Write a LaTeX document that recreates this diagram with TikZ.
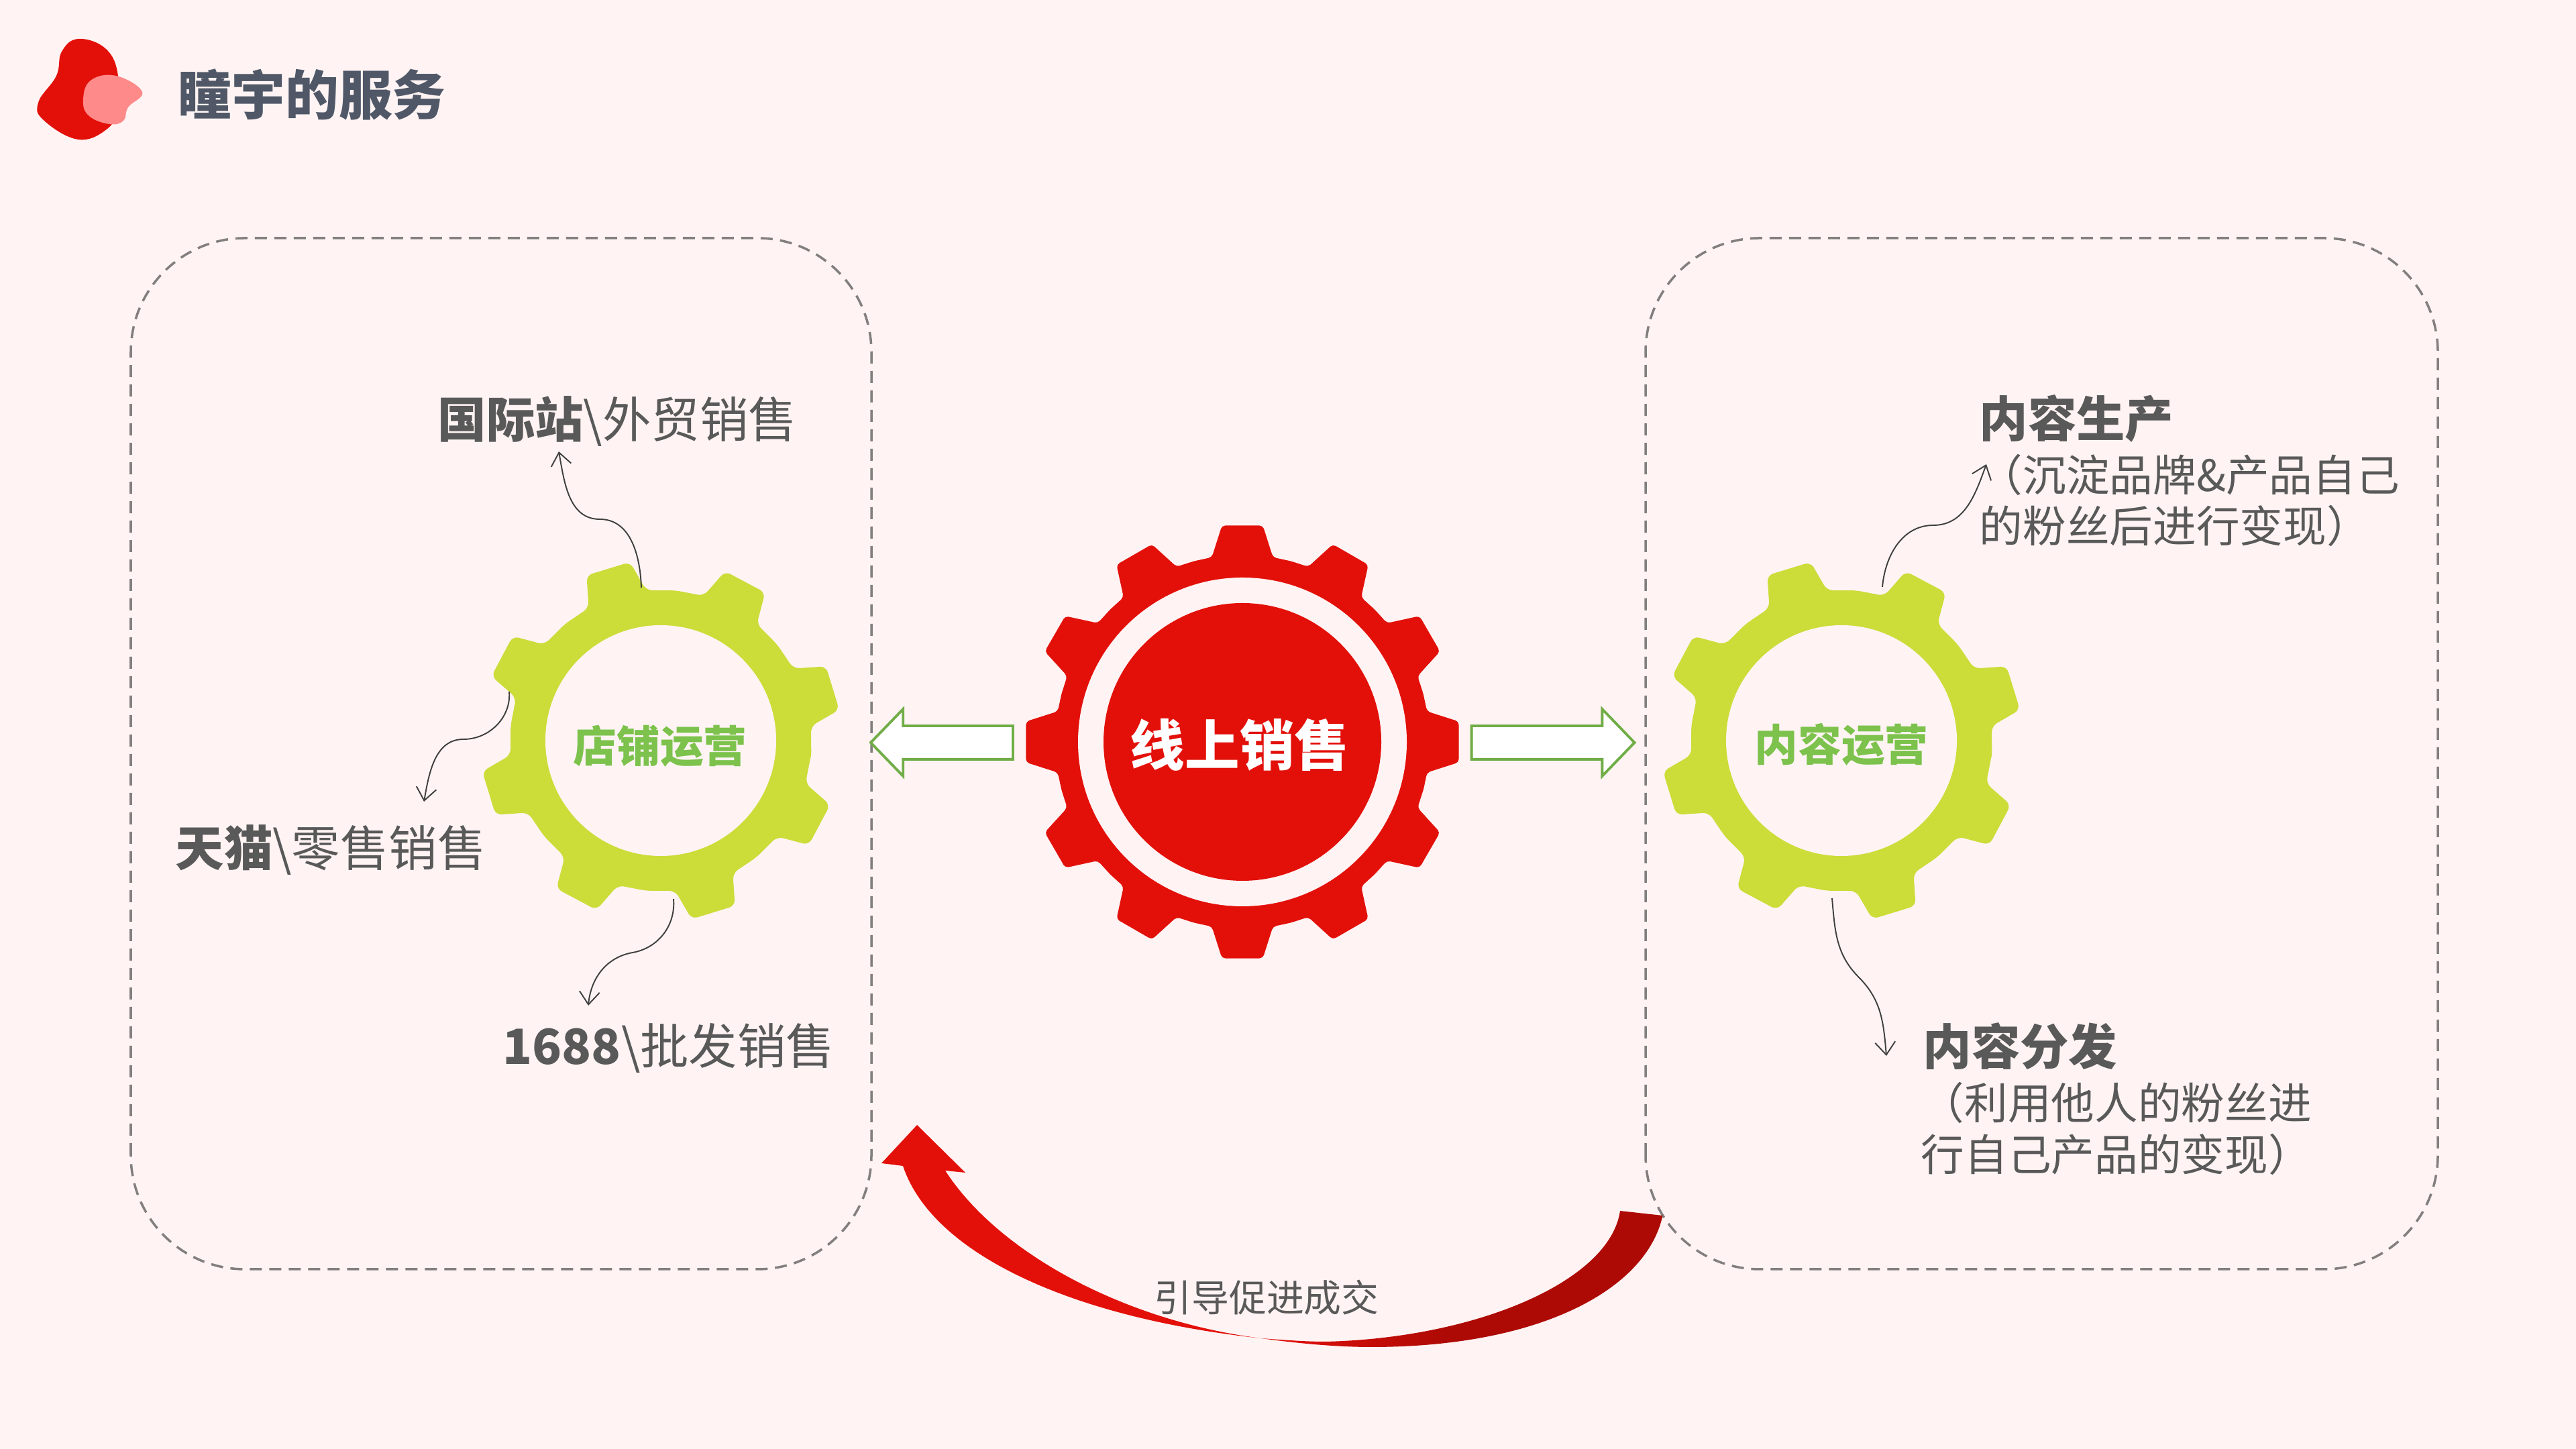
\documentclass[tikz,border=0pt]{standalone}
\usepackage{fontspec}
\usepackage{xcolor}
\setmainfont{Noto Sans CJK SC}
\usetikzlibrary{arrows.meta,shapes.arrows}
\definecolor{bg}{HTML}{FFF4F3}
\definecolor{redm}{HTML}{E3100A}
\definecolor{redd}{HTML}{AE0A05}
\definecolor{pinkm}{HTML}{FF8A8A}
\definecolor{lime}{HTML}{CCDC39}
\definecolor{leaf}{HTML}{7CC24C}
\definecolor{edge}{HTML}{70AD47}
\definecolor{ink}{HTML}{595959}
\definecolor{titleink}{HTML}{505868}
\definecolor{dashc}{HTML}{827F7E}
\pgfdeclarehorizontalshading{bandshade}{100bp}{color(0bp)=(redm); color(50bp)=(redm); color(61bp)=(redd); color(100bp)=(redd)}
\tikzset{
  box/.style={draw=dashc, line width=1pt, dash pattern=on .18cm off .11cm, rounded corners=1.7cm},
  hole/.style={circle, fill=bg, inner sep=0pt, minimum size=3.44cm},
  gearlab/.style={text=leaf, font=\fontsize{18.4}{22}\selectfont\bfseries},
  lab/.style={text=ink, anchor=west, inner sep=0pt, text height=.6cm, text depth=.08cm},
  labl/.style={lab, font=\fontsize{20.6}{24}\selectfont},
  labs/.style={lab, font=\fontsize{18.4}{22}\selectfont},
  curve/.style={draw=black!75, line width=.55pt, -{Straight Barb[length=.19cm,width=.3cm]}},
  blockarrow/.style={single arrow, draw=edge, fill=white, line width=1.1pt, inner sep=0pt, outer sep=0pt,
    text height=.23cm, text depth=.23cm, minimum width=.96cm,
    single arrow head extend=.25cm, single arrow tip angle=92, single arrow head indent=0cm}
}
\newcommand{\gearteeth}[9]{% centre, colour, first tooth, teeth, half pitch, root, tip, base half angle, tip half angle
  \fill[rounded corners=.09cm, #2, shift={#1}] (#3-#5+1:#6) \foreach \a in {#4} {
    -- (\a-#8:#6) -- (\a-#9:#7) -- (\a+#9:#7) -- (\a+#8:#6) -- (\a+#5:#6)} -- cycle;}
\begin{document}
\begin{tikzpicture}
  \fill[bg] (0,0) rectangle (38.4,21.6);
  \useasboundingbox (0,0) rectangle (38.4,21.6);
  % logo
  \fill[redm] plot[smooth cycle,tension=.7] coordinates {(1.17,21.02) (1.58,20.87) (1.76,20.47) (1.72,19.95) (1.60,19.68) (1.17,19.52) (0.66,19.80) (0.57,20.07) (0.84,20.47) (0.92,20.83)};
  \fill[pinkm] plot[smooth cycle,tension=.7] coordinates {(1.73,20.47) (2.12,20.23) (1.91,20.0) (1.84,19.8) (1.63,19.75) (1.33,19.87) (1.24,20.10) (1.35,20.40)};
  \node[text=titleink, font=\fontsize{22.7}{26}\selectfont\bfseries, anchor=west, inner sep=0pt] (title) at (2.65,20.19) {瞳宇的服务};
  % dashed frames
  \draw[box] (1.95,2.68) rectangle (12.99,18.05);
  \draw[box] (24.53,2.68) rectangle (36.34,18.05);
  % gears
  \gearteeth{(9.85,10.56)}{lime}{17}{17,62,107,152,197,242,287,332}{22.5}{2.25}{2.70}{11.5}{7.2}
  \gearteeth{(27.45,10.56)}{lime}{17}{17,62,107,152,197,242,287,332}{22.5}{2.25}{2.70}{11.5}{7.2}
  \gearteeth{(18.52,10.54)}{redm, rounded corners=.05cm}{0}{0,30,...,330}{15}{2.79}{3.24}{9.4}{5.4}
  \node[hole] (gearl) at (9.85,10.56) {};
  \node[hole] (gearr) at (27.45,10.56) {};
  \node[hole, minimum size=4.90cm] (gearm) at (18.52,10.54) {};
  \node[circle, fill=redm, inner sep=0pt, minimum size=4.14cm] (core) at (18.52,10.54) {};
  \node[text=white, font=\fontsize{23.2}{26}\selectfont\bfseries] (sale) at (18.48,10.50) {线上销售};
  \node[gearlab] (shop) at (9.84,10.48) {店铺运营};
  \node[gearlab] (cont) at (27.45,10.50) {内容运营};
  % block arrows
  \node[blockarrow, minimum height=2.12cm, shape border rotate=180] (arrl) at (14.16,10.53) {};
  \node[blockarrow, minimum height=2.43cm] (arrr) at (23.03,10.53) {};
  % curved connectors
  \coordinate (a1) at (9.56,12.84);  \coordinate (m1) at (8.94,13.86);  \coordinate (b1) at (8.33,14.87);
  \coordinate (a2) at (7.59,11.29);  \coordinate (m2) at (6.91,10.58);  \coordinate (b2) at (6.32,9.65);
  \coordinate (a3) at (10.04,8.20);  \coordinate (m3) at (9.43,7.40);   \coordinate (b3) at (8.77,6.61);
  \coordinate (a4) at (28.06,12.85); \coordinate (m4) at (28.82,13.77); \coordinate (b4) at (29.61,14.68);
  \coordinate (a5) at (27.31,8.21);  \coordinate (m5) at (27.71,7.03);  \coordinate (b5) at (28.12,5.86);
  \draw[curve] (a1) to[out=92,in=0] (m1) to[out=180,in=-80] (b1);
  \draw[curve] (a2) to[out=-85,in=0] (m2) to[out=180,in=80] (b2);
  \draw[curve] (a3) to[out=-85,in=10] (m3) to[out=190,in=85] (b3);
  \draw[curve] (a4) to[out=85,in=180] (m4) to[out=0,in=-110] (b4);
  \draw[curve] (a5) to[out=-85,in=135] (m5) to[out=-45,in=95] (b5);
  % labels
  \node[labl] (l1) at (6.52,15.33) {\textbf{国际站}\textbackslash 外贸销售};
  \node[labl] (l2) at (2.61,8.94) {\textbf{天猫}\textbackslash 零售销售};
  \node[labl] (l3) at (7.49,5.99) {\textbf{1688}\textbackslash 批发销售};
  \node[labl] (r1) at (29.50,15.34) {\textbf{内容生产}};
  \node[labs] (r1a) at (29.50,14.53) {（沉淀品牌\&产品自己};
  \node[labs] (r1b) at (29.50,13.77) {的粉丝后进行变现）};
  \node[labl] (r2) at (28.66,5.98) {\textbf{内容分发}};
  \node[labs] (r2a) at (28.63,5.17) {（利用他人的粉丝进};
  \node[labs] (r2b) at (28.63,4.40) {行自己产品的变现）};
  % big curved arrow
  \shade[shading=bandshade]
    (13.46,4.22) -- (13.14,4.26) -- (13.67,4.83) -- (14.39,4.12) -- (14.09,4.15)
    .. controls (14.9,2.9) and (16.8,1.9) .. (18.80,1.65)
    .. controls (16.0,1.95) and (13.9,2.9) .. (13.46,4.22) -- cycle
    (24.785,3.48) .. controls (24.55,2.4) and (23.0,1.52) .. (20.44,1.52)
    .. controls (19.9,1.52) and (19.3,1.58) .. (18.80,1.65)
    .. controls (19.2,1.62) and (19.5,1.60) .. (19.75,1.60)
    .. controls (22.0,1.65) and (24.0,2.5) .. (24.15,3.55) -- cycle;
  \node[text=ink, font=\fontsize{15.9}{19}\selectfont] (lead) at (18.88,2.26) {引导促进成交};
\end{tikzpicture}
\end{document}
